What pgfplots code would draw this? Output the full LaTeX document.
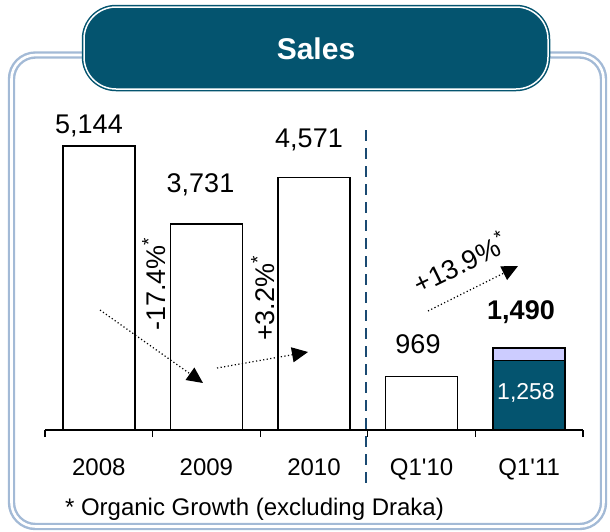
\documentclass[border=0pt]{standalone}
\usepackage{pgfplots}
\pgfplotsset{compat=1.18}
\usepackage{fontspec}
\setmainfont{Liberation Sans}
\usetikzlibrary{arrows.meta}

\definecolor{tabcol}{HTML}{04546F}
\definecolor{lav}{HTML}{CCCCFF}
\definecolor{bordercol}{HTML}{A3BAD6}
\definecolor{dashcol}{HTML}{1A4A72}

\begin{document}
\begin{tikzpicture}
% frame and title tab (1 unit = 1 px of the reference)
\begin{scope}[x=0.5pt,y=-0.5pt]
\useasboundingbox (0,0) rectangle (610,531);
\draw[bordercol, line width=1.2pt, double=white, double distance=1.3pt, rounded corners=12pt]
  (11.5,55) rectangle (603.5,526.5);
\draw[tabcol, fill=tabcol, line width=0.75pt, double=white, double distance=0.75pt, rounded corners=16pt]
  (84,7) rectangle (548,89);
\node[text=white, font=\bfseries\fontsize{15}{18}\selectfont] at (316,49) {Sales};
\end{scope}

\begin{axis}[
  at={(22.5pt,-215pt)}, anchor=south west,
  scale only axis, width=269pt, height=165.6pt,
  xmin=-0.5, xmax=4.5, ymin=0, ymax=6000,
  ybar, bar width=36pt,
  axis y line=none, axis x line*=bottom,
  x axis line style={black, line width=0.75pt},
  xtick={0,...,4},
  xticklabels={2008,2009,2010,{Q1\textquotesingle10},{Q1\textquotesingle11}},
  minor xtick={-0.5,0.5,1.5,2.5,3.5,4.5},
  major tick length=0pt, minor tick length=3.5pt, tick align=outside,
  tick style={black, line width=0.6pt},
  xticklabel style={font=\fontsize{12}{14}\selectfont, anchor=base, yshift=-22.5pt},
  clip=false,
]
\addplot[bar shift=0pt, fill=white, draw=black, line width=0.75pt]
  coordinates {(0,5144) (1,3731) (2,4571) (3,969)};
\addplot[bar shift=0pt, fill=lav, draw=black, line width=0.75pt]
  coordinates {(4,1490)};
\addplot[bar shift=0pt, fill=tabcol, draw=black, line width=0.75pt]
  coordinates {(4,1258)};
\end{axis}

% labels, arrows, divider
\begin{scope}[x=0.5pt,y=-0.5pt, font=\fontsize{13.5}{16}\selectfont]
\draw[dashcol, line width=1pt, dash pattern=on 5.5pt off 3.5pt] (366,130) -- (366,484);
\node[anchor=base] at (89,133) {5,144};
\node[anchor=base] at (200.5,192) {3,731};
\node[anchor=base] at (309,147) {4,571};
\node[anchor=base] at (418,353) {969};
\node[anchor=base, font=\bfseries\fontsize{13.5}{16}\selectfont] at (521,319) {1,490};
\node[anchor=base, text=white, font=\fontsize{11.5}{14}\selectfont] at (526,399) {1,258};
\node[rotate=90] at (154,284) {-17.4\%\textsuperscript{*}};
\node[rotate=90] at (263,298) {+3.2\%\textsuperscript{*}};
\node[rotate=26] at (460,262) {+13.9\%\textsuperscript{*}};
\draw[line width=0.6pt, dash pattern=on 0.6pt off 1.2pt, -{Triangle[length=8pt,width=7.5pt]}]
  (100,310) -- (203,383);
\draw[line width=0.6pt, dash pattern=on 0.6pt off 1.2pt, -{Triangle[length=8pt,width=7.5pt]}]
  (217,368) -- (308,352);
\draw[line width=0.6pt, dash pattern=on 0.6pt off 1.2pt, -{Triangle[length=8pt,width=7.5pt]}]
  (428,311) -- (518,266);
\node[anchor=base west, font=\fontsize{12}{14}\selectfont] at (58,515) {* Organic Growth (excluding Draka)};
\end{scope}
\end{tikzpicture}
\end{document}
